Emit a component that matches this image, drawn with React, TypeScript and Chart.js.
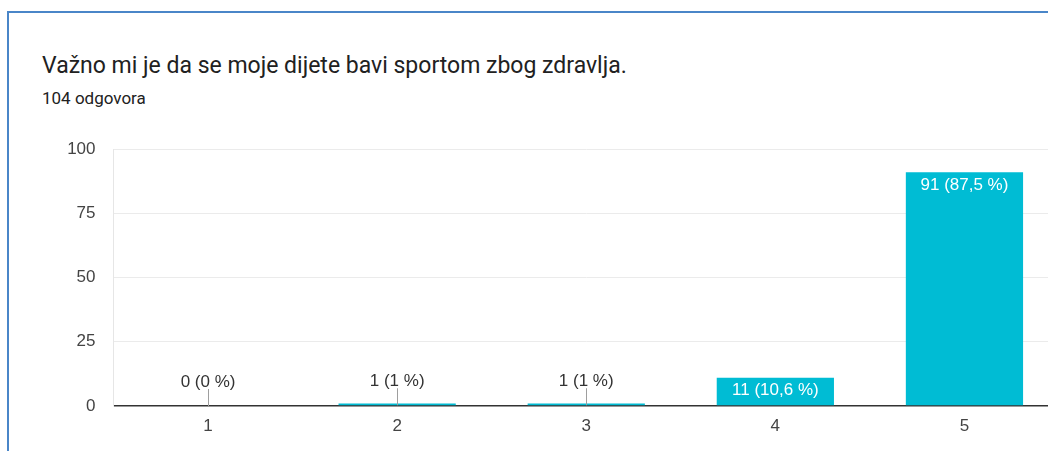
import React, { useEffect, useRef } from "react";
import { Chart, registerables } from "chart.js";

Chart.register(...registerables);

const TITLE = "Važno mi je da se moje dijete bavi sportom zbog zdravlja.";
const SUBTITLE = "104 odgovora";
const categories = ["1", "2", "3", "4", "5"];
const counts = [0, 1, 1, 11, 91];
const percentLabels = ["0 %", "1 %", "1 %", "10,6 %", "87,5 %"];
const yTicks = [0, 25, 50, 75, 100];

const BAR_COLOR = "#00bcd4";
const CHART_FONT = "Arial, 'Liberation Sans', sans-serif";

const labelPlugin = {
  id: "barLabels",
  afterDatasetsDraw(chart: any) {
    const ctx = chart.ctx;
    const meta = chart.getDatasetMeta(0);
    ctx.save();
    ctx.font = `17px ${CHART_FONT}`;
    ctx.textAlign = "center";
    ctx.textBaseline = "middle";
    meta.data.forEach((bar: any, i: number) => {
      const text = `${counts[i]} (${percentLabels[i]})`;
      const h = bar.base - bar.y;
      if (h > 24) {
        ctx.fillStyle = "#ffffff";
        ctx.fillText(text, bar.x, bar.y + 13);
      } else {
        ctx.strokeStyle = "#9e9e9e";
        ctx.lineWidth = 1;
        ctx.beginPath();
        ctx.moveTo(Math.round(bar.x) + 0.5, bar.base);
        ctx.lineTo(Math.round(bar.x) + 0.5, bar.base - 17);
        ctx.stroke();
        ctx.fillStyle = "#333333";
        ctx.fillText(text, bar.x, bar.base - 24);
      }
    });
    ctx.restore();
  },
};

function BarChart() {
  const ref = useRef<HTMLCanvasElement | null>(null);
  useEffect(() => {
    if (!ref.current) return;
    const chart = new Chart(ref.current, {
      type: "bar",
      data: {
        labels: categories,
        datasets: [
          {
            data: counts,
            backgroundColor: BAR_COLOR,
            borderWidth: 0,
            categoryPercentage: 1,
            barPercentage: 0.62,
          },
        ],
      },
      options: {
        animation: false,
        responsive: false,
        maintainAspectRatio: false,
        layout: { padding: { top: 149, left: 0, right: 0, bottom: 0 } },
        plugins: {
          legend: { display: false },
          tooltip: { enabled: false },
        },
        scales: {
          x: {
            grid: { display: false, drawTicks: false },
            border: { display: false },
            ticks: {
              color: "#444444",
              font: { size: 17, family: CHART_FONT },
              padding: 10,
            },
            afterFit: (s: any) => {
              s.height = 45;
            },
          },
          y: {
            min: 0,
            max: 100,
            afterBuildTicks: (s: any) => {
              s.ticks = yTicks.map((v) => ({ value: v }));
            },
            grid: {
              drawTicks: false,
              color: (c: any) => (c.tick && c.tick.value === 0 ? "#333333" : "#ebebeb"),
              lineWidth: (c: any) => (c.tick && c.tick.value === 0 ? 1.5 : 1),
            },
            border: { display: true, color: "#e6e6e6" },
            ticks: {
              color: "#444444",
              font: { size: 17, family: CHART_FONT },
              padding: 18,
            },
            afterFit: (s: any) => {
              s.width = 113.5;
            },
          },
        },
      },
      plugins: [labelPlugin],
    });
    return () => chart.destroy();
  }, []);
  return (
    <canvas
      ref={ref}
      width={1059}
      height={451}
      style={{ position: "absolute", left: 0, top: 0, width: 1059, height: 451 }}
    />
  );
}

export default function App() {
  return (
    <div
      style={{
        position: "fixed",
        left: 0,
        top: 0,
        width: 1048,
        height: 451,
        overflow: "hidden",
        background: "#ffffff",
      }}
    >
      <div
        style={{
          position: "absolute",
          left: 7,
          top: 11,
          width: 2000,
          height: 1000,
          borderLeft: "2px solid #4a86c8",
          borderTop: "2px solid #4a86c8",
        }}
      />
      <div
        style={{
          position: "absolute",
          left: 42,
          top: 53,
          fontFamily: "Roboto, sans-serif",
          fontSize: 23,
          lineHeight: "26px",
          color: "#212121",
          whiteSpace: "nowrap",
        }}
      >
        {TITLE}
      </div>
      <div
        style={{
          position: "absolute",
          left: 42,
          top: 88,
          fontFamily: "Roboto, sans-serif",
          fontSize: 17,
          lineHeight: "20px",
          color: "#212121",
          whiteSpace: "nowrap",
        }}
      >
        {SUBTITLE}
      </div>
      <BarChart />
    </div>
  );
}
